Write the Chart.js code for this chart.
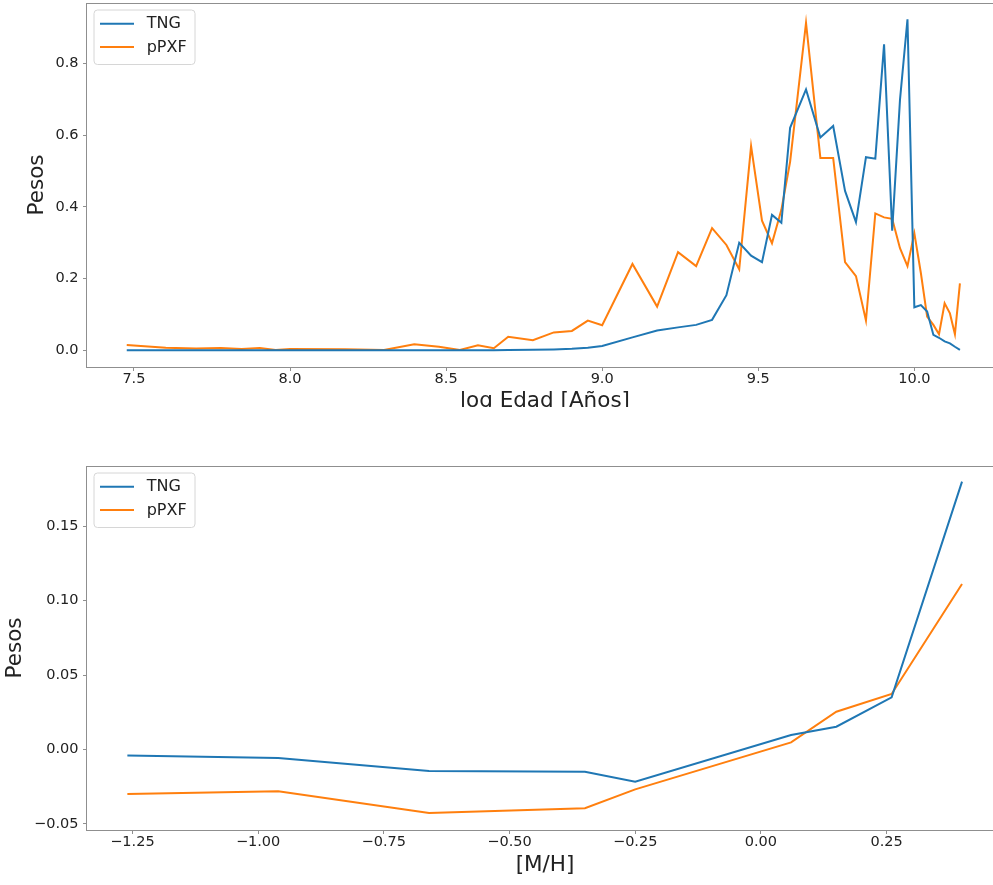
<!DOCTYPE html>
<html><head><meta charset="utf-8">
<script src="https://cdn.jsdelivr.net/npm/chart.js@4.4.0/dist/chart.umd.min.js"></script>
<style>
html,body{margin:0;padding:0;background:#fff;overflow:hidden;width:993px;height:885px;}
#w1{position:absolute;left:0;top:0;width:993px;height:430px;overflow:hidden;}
#w2{position:absolute;left:0;top:407px;width:993px;height:478px;background:#fff;overflow:hidden;}
canvas{display:block;}
</style></head><body>
<div id="w1"><canvas id="c1" width="1003" height="430"></canvas></div>
<div id="w2"><canvas id="c2" width="1003" height="478"></canvas></div>
<script>
// ---- Data: age distribution ----
const logEdad = [7.477, 7.602, 7.699, 7.778, 7.845, 7.903, 7.954, 8.000, 8.176, 8.301,
  8.398, 8.477, 8.544, 8.602, 8.653, 8.699, 8.778, 8.845, 8.903, 8.954,
  9.000, 9.097, 9.176, 9.243, 9.301, 9.352, 9.398, 9.439, 9.477, 9.512,
  9.544, 9.574, 9.602, 9.653, 9.699, 9.740, 9.778, 9.813, 9.845, 9.875,
  9.903, 9.929, 9.954, 9.978, 10.000, 10.021, 10.041, 10.061, 10.079, 10.097,
  10.114, 10.130, 10.146];
const tngEdad = [0, 0, 0, 0, 0, 0, 0, 0, 0, 0,
  0, 0, 0, 0, 0.0003, 0.0006, 0.0015, 0.0025, 0.004, 0.007,
  0.012, 0.036, 0.055, 0.064, 0.071, 0.085, 0.154, 0.300, 0.264, 0.246,
  0.378, 0.356, 0.621, 0.728, 0.594, 0.626, 0.445, 0.358, 0.539, 0.535,
  0.854, 0.334, 0.699, 0.924, 0.120, 0.126, 0.108, 0.043, 0.035, 0.025,
  0.0195, 0.010, 0.001];
const ppxfEdad = [0.0149, 0.0074, 0.0047, 0.0065, 0.0037, 0.0065, 0.0009, 0.0037, 0.0028, 0.0010,
  0.0167, 0.0102, 0.0010, 0.0140, 0.0056, 0.038, 0.028, 0.050, 0.054, 0.083,
  0.070, 0.241, 0.122, 0.274, 0.235, 0.341, 0.294, 0.226, 0.570, 0.362,
  0.299, 0.392, 0.526, 0.914, 0.537, 0.537, 0.246, 0.207, 0.083, 0.382,
  0.371, 0.367, 0.285, 0.235, 0.327, 0.215, 0.094, 0.071, 0.045, 0.131,
  0.103, 0.045, 0.187];
// ---- Data: metallicity distribution ----
const metal = [-1.26, -0.96, -0.66, -0.35, -0.25, 0.06, 0.15, 0.26, 0.40];
const tngMetal = [-0.0041, -0.0057, -0.0145, -0.0149, -0.0216, 0.0097, 0.0153, 0.0351, 0.180];
const ppxfMetal = [-0.0299, -0.0281, -0.0427, -0.0395, -0.0268, 0.0048, 0.0254, 0.0373, 0.1112];
const seriesNames = ['TNG', 'pPXF'];
const xLabelTop = 'log Edad [Años]';
const xLabelBottom = '[M/H]';
const yLabel = 'Pesos';

const FONT = "'DejaVu Sans', 'Liberation Sans', sans-serif";
const BLUE = '#1f77b4', ORANGE = '#ff7f0e';
const SPINE = '#8f8f8f', TXT = '#222';

const frameLegend = {
  id: 'frameLegend',
  afterDraw(chart) {
    const {ctx, chartArea: a} = chart;
    ctx.save();
    ctx.strokeStyle = SPINE; ctx.lineWidth = 1;
    ctx.strokeRect(Math.round(a.left) - 0.5, Math.round(a.top) + 0.5,
                   Math.round(a.right - a.left) + 1, Math.round(a.bottom - a.top));
    // legend
    const bx = a.left + 7, by = a.top + 7, bw = 101, bh = 54.5, r = 3.5;
    ctx.beginPath();
    ctx.moveTo(bx + r, by); ctx.lineTo(bx + bw - r, by); ctx.arcTo(bx + bw, by, bx + bw, by + r, r);
    ctx.lineTo(bx + bw, by + bh - r); ctx.arcTo(bx + bw, by + bh, bx + bw - r, by + bh, r);
    ctx.lineTo(bx + r, by + bh); ctx.arcTo(bx, by + bh, bx, by + bh - r, r);
    ctx.lineTo(bx, by + r); ctx.arcTo(bx, by, bx + r, by, r); ctx.closePath();
    ctx.fillStyle = 'rgba(255,255,255,0.85)'; ctx.fill();
    ctx.strokeStyle = '#d6d6d6'; ctx.lineWidth = 1; ctx.stroke();
    ctx.font = '16px ' + FONT; ctx.textBaseline = 'middle'; ctx.textAlign = 'left';
    chart.data.datasets.forEach((ds, i) => {
      const y = a.top + 20.7 + i * 23.3;
      ctx.strokeStyle = ds.borderColor; ctx.lineWidth = 2;
      ctx.beginPath(); ctx.moveTo(a.left + 13, y); ctx.lineTo(a.left + 47, y); ctx.stroke();
      ctx.fillStyle = TXT; ctx.fillText(ds.label, a.left + 59.7, y + 0.5);
    });
    ctx.restore();
  }
};

function pts(xs, ys) { return xs.map((x, i) => ({x: x, y: ys[i]})); }
const fmt = d => v => v.toFixed(d).replace('-', '\u2212');
function noPad(s) { s.paddingLeft = 0; s.paddingRight = 0; s.paddingTop = 0; s.paddingBottom = 0; }

function makeChart(id, cfg) {
  return new Chart(document.getElementById(id), {
    type: 'line',
    data: {datasets: [
      {label: seriesNames[0], data: pts(cfg.xs, cfg.a), borderColor: BLUE, backgroundColor: BLUE, borderWidth: 2, pointRadius: 0, tension: 0, fill: false},
      {label: seriesNames[1], data: pts(cfg.xs, cfg.b), borderColor: ORANGE, backgroundColor: ORANGE, borderWidth: 2, pointRadius: 0, tension: 0, fill: false}
    ]},
    options: {
      responsive: false, devicePixelRatio: 1, animation: false,
      layout: {padding: {top: cfg.padTop, left: 0, right: 0, bottom: 0}},
      plugins: {legend: {display: false}, tooltip: {enabled: false}},
      scales: {
        x: {
          type: 'linear', min: cfg.xmin, max: cfg.xmax,
          afterFit(s) { s.height = cfg.xh; noPad(s); },
          ticks: {stepSize: cfg.xstep, includeBounds: false, padding: 0, color: TXT, autoSkip: false, maxRotation: 0,
                  font: {family: FONT, size: 14.5}, callback: fmt(cfg.xdec)},
          grid: {drawOnChartArea: false, drawTicks: true, tickLength: 4, tickColor: SPINE},
          border: {display: false},
          title: {display: true, text: cfg.xtitle, color: TXT, font: {family: FONT, size: 21.5},
                  padding: {top: 0, bottom: cfg.xtpad}}
        },
        y: {
          type: 'linear', min: cfg.ymin, max: cfg.ymax,
          afterFit(s) { s.width = 87; noPad(s); },
          ticks: {stepSize: cfg.ystep, includeBounds: false, padding: 4.5, color: TXT,
                  font: {family: FONT, size: 14.5}, callback: fmt(cfg.ydec)},
          grid: {drawOnChartArea: false, drawTicks: true, tickLength: 4, tickColor: SPINE},
          border: {display: false},
          title: {display: true, text: yLabel, color: TXT, font: {family: FONT, size: 21.5},
                  padding: {top: cfg.ytpad, bottom: 0}}
        }
      }
    },
    plugins: [frameLegend]
  });
}

makeChart('c1', {xs: logEdad, a: tngEdad, b: ppxfEdad, padTop: 3,
  xmin: 7.3497, xmax: 10.284, xstep: 0.5, xdec: 1, xh: 63, xtpad: 15.5, xtitle: xLabelTop,
  ymin: -0.0466, ymax: 0.9694, ystep: 0.2, ydec: 1, ytpad: 25});
makeChart('c2', {xs: metal, a: tngMetal, b: ppxfMetal, padTop: 59,
  xmin: -1.3403, xmax: 0.4815, xstep: 0.25, xdec: 2, xh: 55, xtpad: 6.6, xtitle: xLabelBottom,
  ymin: -0.0541, ymax: 0.1905, ystep: 0.05, ydec: 2, ytpad: 2.3});
</script>
</body></html>
